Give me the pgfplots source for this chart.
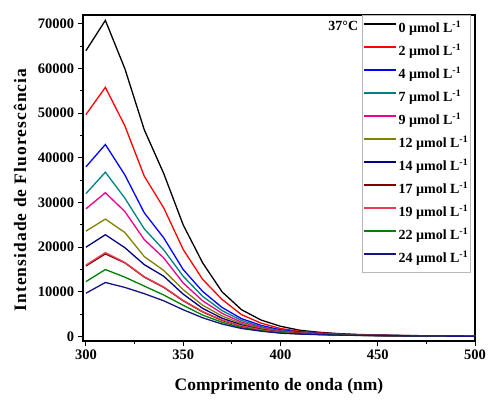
\documentclass[border=0pt]{standalone}
\usepackage{fontspec}
\setmainfont{Liberation Serif}
\usepackage{pgfplots}
\usepackage{pgfplotstable}
\pgfplotsset{compat=1.18}
\definecolor{cteal}{RGB}{0,128,128}
\definecolor{colive}{RGB}{128,128,0}
\definecolor{cnavy}{RGB}{0,0,128}
\definecolor{cdred}{RGB}{128,0,0}
\definecolor{cpink}{RGB}{235,60,80}
\definecolor{cgreen}{RGB}{0,128,0}
\definecolor{cnavyb}{RGB}{20,20,130}
\pgfplotstableread{
x   s0    s2    s4    s7    s9    s12   s14   s17   s19   s22   s24
300 64000 49700 38000 32000 28600 23600 20000 15800 16000 12300 9700
310 70800 55800 43000 36800 32200 26300 22800 18500 18800 15000 12100
320 60000 47200 36200 31000 28000 23300 19900 16500 16600 13300 11000
330 46300 35900 27700 24100 21700 17900 16100 13300 13400 11300 9600
340 36500 28800 22100 19400 17600 14800 13500 11000 11100 9300 8000
350 25000 19500 15000 13500 12000 10500 9500 8000 8100 7000 6000
360 16500 12800 10100 9000 8000 7000 6300 5500 5600 4800 4200
370 10000 8300 6500 5800 5200 4600 4100 3600 3700 3200 2800
380 6000 4900 4000 3600 3200 2900 2600 2300 2400 2000 1800
390 3700 3000 2500 2200 2000 1800 1600 1500 1500 1300 1200
400 2300 1800 1500 1300 1200 1100 1000 950 950 850 750
410 1400 1150 1000 900 820 760 700 650 650 600 550
420 950 800 700 640 600 560 520 480 480 450 420
430 650 560 500 460 440 410 390 360 360 340 320
440 460 400 370 340 330 310 300 280 280 270 250
450 350 300 280 260 250 240 230 220 220 210 200
460 260 230 210 200 190 185 180 175 175 170 160
470 200 180 170 160 155 150 145 140 140 135 130
480 160 145 135 130 125 120 118 115 115 110 105
490 130 120 112 108 104 100 98 96 96 92 90
500 110 100 95 92 90 88 86 84 84 82 80
}\datatable
\newcommand{\um}[1]{#1 µmol L\textsuperscript{-1}}
\begin{document}
\begin{tikzpicture}
\begin{axis}[
  scale only axis, width=392pt, height=326pt,
  xmin=298.5, xmax=500, ymin=-1000, ymax=72000,
  xtick={300,350,...,500}, ytick={0,10000,...,70000},
  minor x tick num=1, minor y tick num=1,
  tick align=outside, tick pos=left,
  major tick length=5pt, minor tick length=3pt,
  major tick style={line width=1pt, black},
  minor tick style={line width=1pt, black},
  line width=1.3pt,
  scaled y ticks=false,
  /pgf/number format/assume math mode=true,
  /pgf/number format/set thousands separator={},
  ticklabel style={font=\fontsize{14.5}{16}\selectfont\bfseries},
  xlabel={Comprimento de onda (nm)},
  ylabel={\addfontfeatures{LetterSpace=6}Intensidade de Fluorescência},
  x label style={at={(axis description cs:0.5,-0.138)}, anchor=center, font=\fontsize{17.5}{20}\selectfont\bfseries},
  y label style={at={(axis description cs:-0.1607,0.463)}, anchor=center, font=\fontsize{17.5}{20}\selectfont\bfseries},
  legend style={at={(rel axis cs:0.9898,1)}, anchor=north east, draw=gray!55, line width=0.7pt,
    font=\fontsize{14}{16}\selectfont\bfseries, row sep=8pt,
    inner xsep=1pt, inner ysep=6pt,
    nodes={inner ysep=0pt, inner xsep=1.5pt, text height=11pt, text depth=4pt}},
  legend cell align=left,
  legend image code/.code={\draw[#1, line width=1.5pt] (0pt,5pt) -- (32pt,5pt);},
  every axis plot/.append style={line width=1.3pt},
]
\addplot[black] table[x=x,y=s0]{\datatable}; \addlegendentry{\um{0}}
\addplot[red] table[x=x,y=s2]{\datatable}; \addlegendentry{\um{2}}
\addplot[blue] table[x=x,y=s4]{\datatable}; \addlegendentry{\um{4}}
\addplot[cteal] table[x=x,y=s7]{\datatable}; \addlegendentry{\um{7}}
\addplot[magenta] table[x=x,y=s9]{\datatable}; \addlegendentry{\um{9}}
\addplot[colive] table[x=x,y=s12]{\datatable}; \addlegendentry{\um{12}}
\addplot[cnavy] table[x=x,y=s14]{\datatable}; \addlegendentry{\um{14}}
\addplot[cdred] table[x=x,y=s17]{\datatable}; \addlegendentry{\um{17}}
\addplot[cpink] table[x=x,y=s19]{\datatable}; \addlegendentry{\um{19}}
\addplot[cgreen] table[x=x,y=s22]{\datatable}; \addlegendentry{\um{22}}
\addplot[cnavyb] table[x=x,y=s24]{\datatable}; \addlegendentry{\um{24}}
\node[anchor=east, font=\fontsize{14}{16}\selectfont\bfseries] at (rel axis cs:0.712,0.966) {37°C};
\end{axis}
\pgfresetboundingbox
\path ([shift={(-83pt,-62pt)}]current axis.south west) rectangle ([shift={(14pt,15pt)}]current axis.north east);
\end{tikzpicture}
\end{document}
